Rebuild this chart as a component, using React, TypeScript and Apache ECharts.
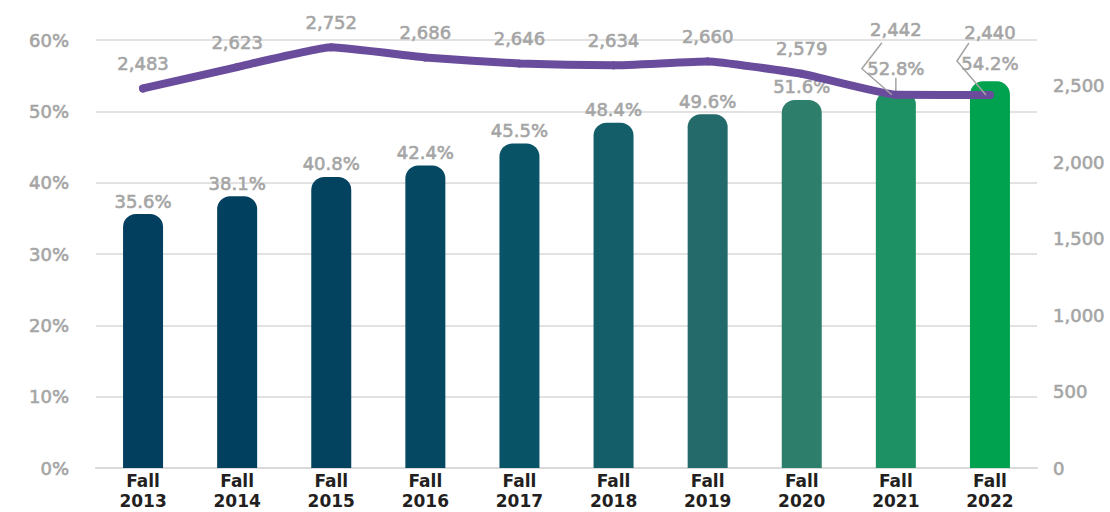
import React, { useEffect, useRef } from "react";
import * as echarts from "echarts";

const categories = ["Fall\n2013", "Fall\n2014", "Fall\n2015", "Fall\n2016", "Fall\n2017", "Fall\n2018", "Fall\n2019", "Fall\n2020", "Fall\n2021", "Fall\n2022"];
const rateValues = [35.6, 38.1, 40.8, 42.4, 45.5, 48.4, 49.6, 51.6, 52.8, 54.2];
const countValues = [2483, 2623, 2752, 2686, 2646, 2634, 2660, 2579, 2442, 2440];
const barColors = ["#023F5F", "#02405F", "#034360", "#044862", "#085366", "#145E6A", "#246A6B", "#2D7E6A", "#1E9164", "#00A24F"];
const leftTicks = { min: 0, max: 60, interval: 10 };
const rightTicks = { min: 0, max: 2800, interval: 500 };
const leaderIndices = [8, 9];

const GRAY = "#A5A5A5";
const FONT = "DejaVu Sans";
const grayText = {
  color: GRAY,
  fontFamily: FONT,
  fontSize: 18,
  textBorderColor: GRAY,
  textBorderWidth: 0.6,
};

export default function App() {
  const ref = useRef<HTMLDivElement>(null);
  useEffect(() => {
    document.body.style.margin = "0";
    const chart = echarts.init(ref.current!, null, { renderer: "svg" });
    const barLift: Record<number, number> = { 8: -10, 9: -5 };
    const lineLift: Record<number, number> = { 8: -40, 9: -38 };
    const zig: Record<number, number[][]> = {
      0: [[-4, 0], [-34, -26], [-14, -52]],
      1: [[-4, 0], [-33, -34], [-21, -52]],
    };
    chart.setOption({
      animation: false,
      grid: { left: 96, right: 73, top: 40, bottom: 44, containLabel: false, outerBoundsMode: "none" },
      xAxis: {
        type: "category",
        data: categories,
        axisTick: { show: false },
        axisLine: { show: true, lineStyle: { color: "#D9D9D9", width: 2 } },
        axisLabel: {
          color: "#231F20",
          fontFamily: "DejaVu Sans",
          fontWeight: "bold",
          fontSize: 17,
          lineHeight: 20,
          margin: 3,
          interval: 0,
        },
      },
      yAxis: [
        {
          type: "value",
          ...leftTicks,
          position: "left",
          axisLine: { show: false },
          axisTick: { show: false },
          splitLine: { lineStyle: { color: "#D9D9D9", width: 1.5 } },
          axisLabel: { formatter: "{value}%", margin: 27, ...grayText },
        },
        {
          type: "value",
          ...rightTicks,
          position: "right",
          axisLine: { show: false },
          axisTick: { show: false },
          splitLine: { show: false },
          axisLabel: {
            showMaxLabel: false,
            formatter: (v: number) => v.toLocaleString("en-US"),
            margin: 16,
            ...grayText,
          },
        },
      ],
      series: [
        {
          type: "bar",
          yAxisIndex: 0,
          barWidth: 40,
          data: rateValues.map((v, i) => ({
            value: v,
            itemStyle: { color: barColors[i], borderRadius: [13, 13, 0, 0] },
            labelLine: { show: i === 8 },
          })),
          label: {
            show: true,
            position: "top",
            distance: 4,
            formatter: (p: any) => p.value.toFixed(1) + "%",
            ...grayText,
          },
          labelLine: { lineStyle: { color: GRAY, width: 1.5 } },
          labelLayout: (p: any) => (barLift[p.dataIndex] ? { dy: barLift[p.dataIndex] } : {}),
          z: 2,
        },
        {
          type: "line",
          yAxisIndex: 1,
          smooth: 0.12,
          symbol: "circle",
          symbolSize: 8,
          itemStyle: { color: "#6A4C9C" },
          lineStyle: { color: "#6A4C9C", width: 8, cap: "round", join: "round" },
          data: countValues,
          label: {
            show: true,
            position: "top",
            distance: 12,
            formatter: (p: any) => Number(p.value).toLocaleString("en-US"),
            ...grayText,
          },
          labelLayout: (p: any) => (lineLift[p.dataIndex] ? { dy: lineLift[p.dataIndex] } : {}),
          z: 3,
        },
        {
          type: "custom",
          yAxisIndex: 1,
          silent: true,
          data: leaderIndices.map((i) => [i, countValues[i]]),
          renderItem: (params: any, api: any) => {
            const p = api.coord([api.value(0), api.value(1)]);
            const offs = zig[params.dataIndex];
            return {
              type: "polyline",
              shape: { points: offs.map((o) => [p[0] + o[0], p[1] + o[1]]) },
              style: { stroke: GRAY, lineWidth: 1.5, fill: null },
            };
          },
          z: 4,
        },
      ],
    });
    return () => chart.dispose();
  }, []);
  return <div ref={ref} style={{ width: 1110, height: 512 }} />;
}
